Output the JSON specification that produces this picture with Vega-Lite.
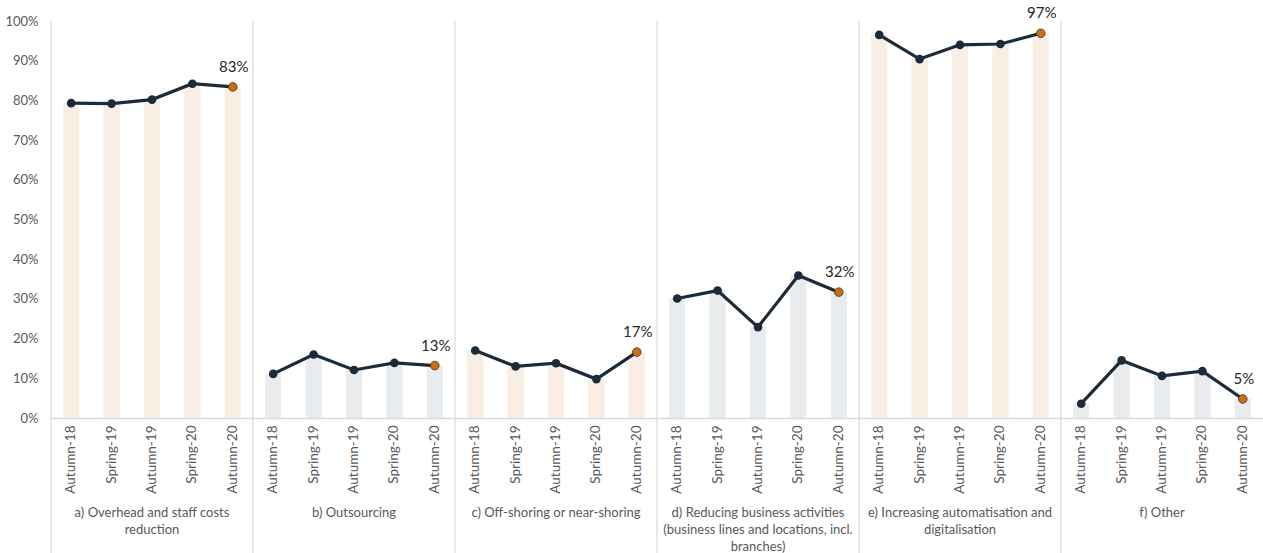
{
  "$schema": "https://vega.github.io/schema/vega-lite/v6.json",
  "autosize": {"type": "none"},
  "width": 1212,
  "height": 397,
  "padding": {"left": 51, "top": 21, "right": 0, "bottom": 135},
  "background": "white",
  "config": {
    "view": {"stroke": null},
    "font": "Lato",
    "axis": {"labelFont": "Lato", "labelColor": "#595959", "labelFontSize": 13}
  },
  "datasets": {
    "obs": [
      {"key": "a1 Autumn-18", "grp": "a", "period": "Autumn-18", "value": 0.793},
      {"key": "a2 Spring-19", "grp": "a", "period": "Spring-19", "value": 0.792},
      {"key": "a3 Autumn-19", "grp": "a", "period": "Autumn-19", "value": 0.802},
      {"key": "a4 Spring-20", "grp": "a", "period": "Spring-20", "value": 0.842},
      {"key": "a5 Autumn-20", "grp": "a", "period": "Autumn-20", "value": 0.834},
      {"key": "b1 Autumn-18", "grp": "b", "period": "Autumn-18", "value": 0.111},
      {"key": "b2 Spring-19", "grp": "b", "period": "Spring-19", "value": 0.160},
      {"key": "b3 Autumn-19", "grp": "b", "period": "Autumn-19", "value": 0.121},
      {"key": "b4 Spring-20", "grp": "b", "period": "Spring-20", "value": 0.139},
      {"key": "b5 Autumn-20", "grp": "b", "period": "Autumn-20", "value": 0.132},
      {"key": "c1 Autumn-18", "grp": "c", "period": "Autumn-18", "value": 0.170},
      {"key": "c2 Spring-19", "grp": "c", "period": "Spring-19", "value": 0.130},
      {"key": "c3 Autumn-19", "grp": "c", "period": "Autumn-19", "value": 0.138},
      {"key": "c4 Spring-20", "grp": "c", "period": "Spring-20", "value": 0.098},
      {"key": "c5 Autumn-20", "grp": "c", "period": "Autumn-20", "value": 0.166},
      {"key": "d1 Autumn-18", "grp": "d", "period": "Autumn-18", "value": 0.301},
      {"key": "d2 Spring-19", "grp": "d", "period": "Spring-19", "value": 0.321},
      {"key": "d3 Autumn-19", "grp": "d", "period": "Autumn-19", "value": 0.229},
      {"key": "d4 Spring-20", "grp": "d", "period": "Spring-20", "value": 0.359},
      {"key": "d5 Autumn-20", "grp": "d", "period": "Autumn-20", "value": 0.317},
      {"key": "e1 Autumn-18", "grp": "e", "period": "Autumn-18", "value": 0.965},
      {"key": "e2 Spring-19", "grp": "e", "period": "Spring-19", "value": 0.904},
      {"key": "e3 Autumn-19", "grp": "e", "period": "Autumn-19", "value": 0.940},
      {"key": "e4 Spring-20", "grp": "e", "period": "Spring-20", "value": 0.942},
      {"key": "e5 Autumn-20", "grp": "e", "period": "Autumn-20", "value": 0.969},
      {"key": "f1 Autumn-18", "grp": "f", "period": "Autumn-18", "value": 0.036},
      {"key": "f2 Spring-19", "grp": "f", "period": "Spring-19", "value": 0.145},
      {"key": "f3 Autumn-19", "grp": "f", "period": "Autumn-19", "value": 0.106},
      {"key": "f4 Spring-20", "grp": "f", "period": "Spring-20", "value": 0.118},
      {"key": "f5 Autumn-20", "grp": "f", "period": "Autumn-20", "value": 0.048}
    ],
    "groups": [
      {"grp": "a", "first": "a1 Autumn-18", "mid": "a3 Autumn-19", "glabel": "a) Overhead and staff costs\nreduction"},
      {"grp": "b", "first": "b1 Autumn-18", "mid": "b3 Autumn-19", "glabel": "b) Outsourcing"},
      {"grp": "c", "first": "c1 Autumn-18", "mid": "c3 Autumn-19", "glabel": "c) Off-shoring or near-shoring"},
      {"grp": "d", "first": "d1 Autumn-18", "mid": "d3 Autumn-19", "glabel": "d) Reducing business activities\n(business lines and locations, incl.\nbranches)"},
      {"grp": "e", "first": "e1 Autumn-18", "mid": "e3 Autumn-19", "glabel": "e) Increasing automatisation and\ndigitalisation"},
      {"grp": "f", "first": "f1 Autumn-18", "mid": "f3 Autumn-19", "glabel": "f) Other"}
    ]
  },
  "layer": [
    {
      "data": {"name": "obs"},
      "mark": {"type": "bar", "width": {"band": 0.4}},
      "encoding": {
        "x": {
          "field": "key", "type": "nominal", "title": null,
          "scale": {"paddingInner": 0, "paddingOuter": 0},
          "axis": {
            "labelExpr": "slice(datum.label, 3)",
            "labelAngle": -90,
            "labelPadding": 7,
            "ticks": false,
            "domain": true,
            "domainColor": "#D9D9D9",
            "domainWidth": 1.5,
            "labelFontSize": 13.5,
            "labelOverlap": false
          }
        },
        "y": {
          "field": "value", "type": "quantitative", "title": null,
          "scale": {"domain": [0, 1], "nice": false},
          "axis": {
            "format": ".0%",
            "tickCount": 10,
            "labelOverlap": false,
            "labelSeparation": 0,
            "ticks": false,
            "domain": false,
            "grid": false,
            "labelPadding": 13,
            "labelFontSize": 13
          }
        },
        "color": {
          "condition": {"test": "indexof(['a','c','e'], datum.grp) >= 0", "value": "#F8EEE4"},
          "value": "#E9ECEF"
        }
      }
    },
    {
      "data": {"name": "groups"},
      "mark": {"type": "rule", "color": "#D9D9D9", "strokeWidth": 1.2},
      "encoding": {
        "x": {"field": "first", "type": "nominal", "bandPosition": 0},
        "y": {"datum": 1, "type": "quantitative"},
        "y2": {"datum": -0.35}
      }
    },
    {
      "data": {"name": "obs"},
      "mark": {"type": "line", "color": "#1B2B39", "strokeWidth": 3.2},
      "encoding": {
        "x": {"field": "key", "type": "nominal"},
        "y": {"field": "value", "type": "quantitative"},
        "detail": {"field": "grp"}
      }
    },
    {
      "data": {"name": "obs"},
      "transform": [{"filter": "datum.period != 'Autumn-20'"}],
      "mark": {"type": "circle", "color": "#1B2B39", "opacity": 1, "size": 75},
      "encoding": {
        "x": {"field": "key", "type": "nominal"},
        "y": {"field": "value", "type": "quantitative"}
      }
    },
    {
      "data": {"name": "obs"},
      "transform": [{"filter": "datum.period == 'Autumn-20'"}],
      "mark": {"type": "point", "shape": "circle", "filled": true, "fill": "#C8700F", "stroke": "#3A3A3A", "strokeWidth": 0.8, "opacity": 1, "size": 75},
      "encoding": {
        "x": {"field": "key", "type": "nominal"},
        "y": {"field": "value", "type": "quantitative"}
      }
    },
    {
      "data": {"name": "obs"},
      "transform": [{"filter": "datum.period == 'Autumn-20'"}],
      "mark": {"type": "text", "dy": -12, "fontSize": 15, "color": "#262626", "baseline": "bottom", "dx": 1},
      "encoding": {
        "x": {"field": "key", "type": "nominal"},
        "y": {"field": "value", "type": "quantitative"},
        "text": {"field": "value", "type": "quantitative", "format": ".0%"}
      }
    },
    {
      "data": {"name": "groups"},
      "mark": {"type": "text", "fontSize": 13, "color": "#595959", "baseline": "middle", "align": "center", "lineHeight": 17, "lineBreak": "\n"},
      "encoding": {
        "x": {"field": "mid", "type": "nominal"},
        "y": {"datum": -0.24, "type": "quantitative"},
        "text": {"field": "glabel"}
      }
    }
  ]
}
